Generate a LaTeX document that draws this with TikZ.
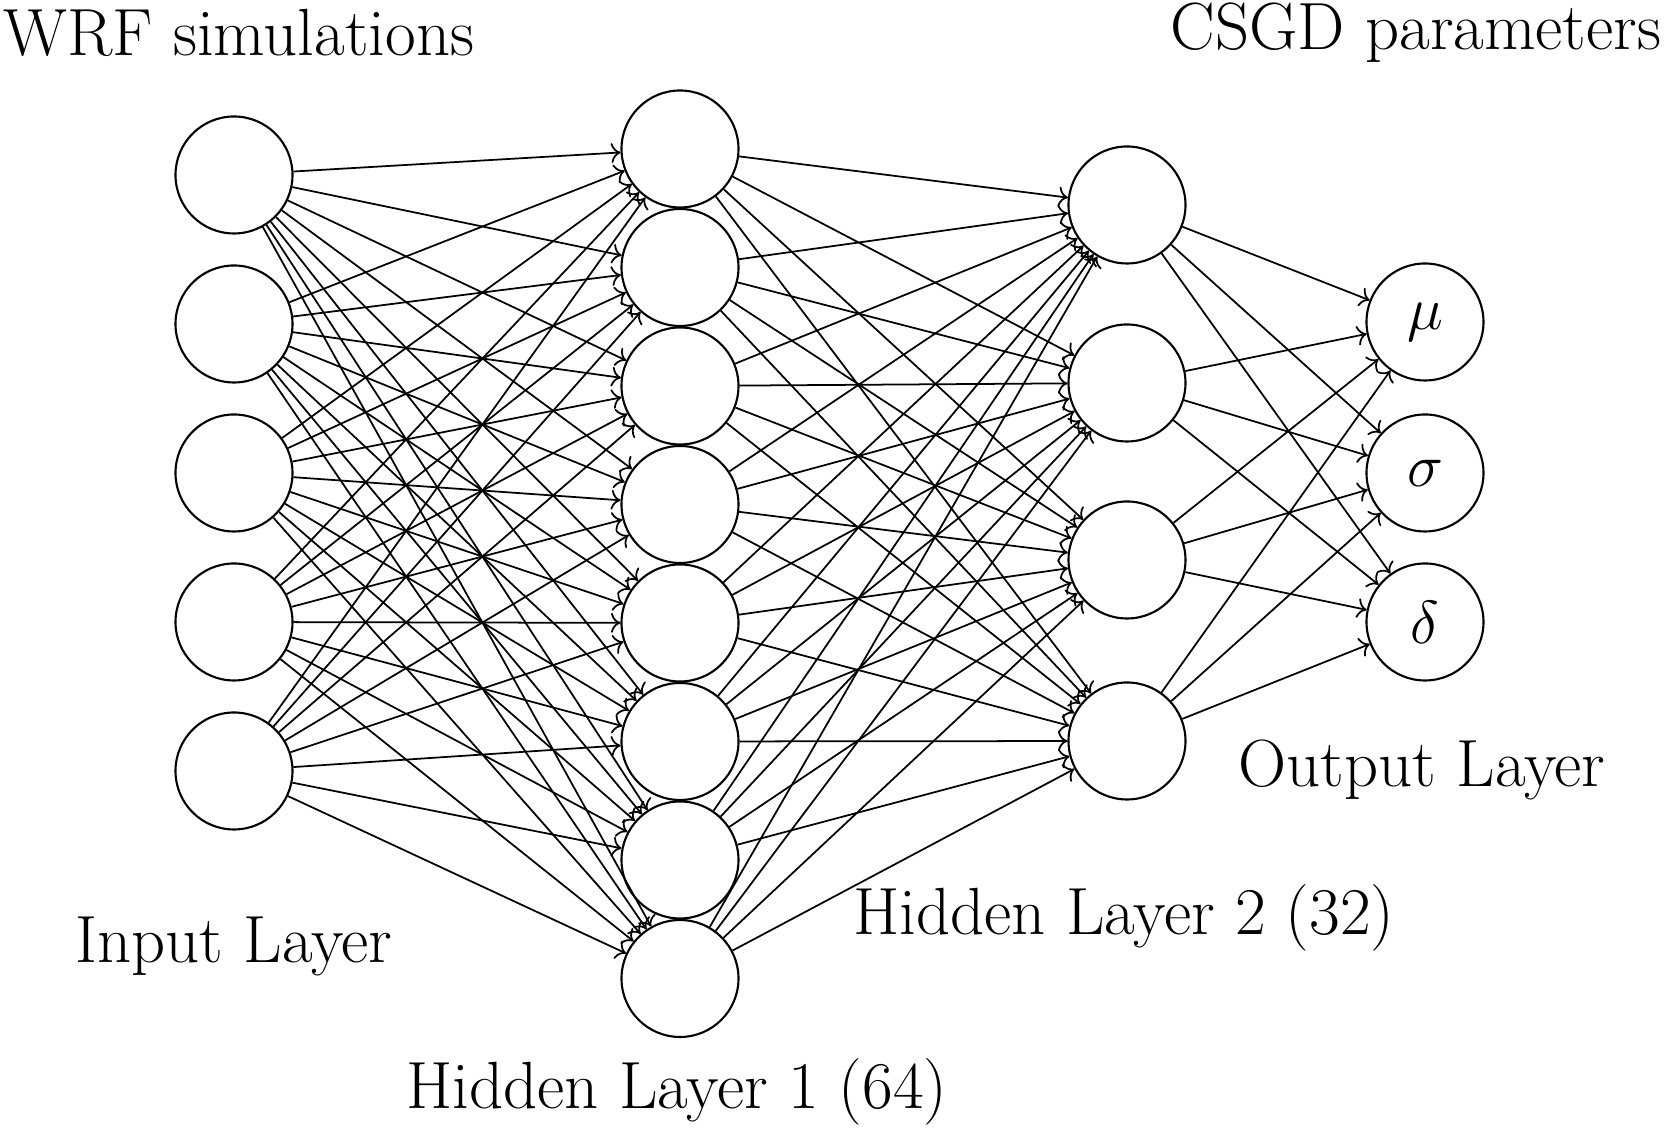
\documentclass[tikz,border=0pt]{standalone}
\usepackage{amsmath,amssymb}
\usepackage{tikz}
\usetikzlibrary{arrows.meta, positioning, calc}

\begin{document}
\begin{tikzpicture}[ neuron/.style={circle, draw=black, line width=0.6pt,
      minimum size=1.17cm, inner sep=0pt, font=\fontsize{19pt}{23pt}\selectfont},
      conn/.style={line width=0.5pt, ->},
      layerlabel/.style={font=\fontsize{19pt}{23pt}\selectfont, text=black,
      inner sep=0pt} ]
    \useasboundingbox (0,0) rectangle (16.67,-11.30);

    % Input layer
    \node[neuron] (i1) at (2.34,-1.75) {}; \node[neuron] (i2) at (2.34,-3.24)
    {}; \node[neuron] (i3) at (2.34,-4.73) {}; \node[neuron] (i4) at
    (2.34,-6.22) {}; \node[neuron] (i5) at (2.34,-7.71) {};

    % Hidden layer 1
    \node[neuron] (a1) at (6.80,-1.49) {}; \node[neuron] (a2) at (6.80,-2.675)
    {}; \node[neuron] (a3) at (6.80,-3.86) {}; \node[neuron] (a4) at
    (6.80,-5.045) {}; \node[neuron] (a5) at (6.80,-6.23) {}; \node[neuron]
    (a6) at (6.80,-7.415) {}; \node[neuron] (a7) at (6.80,-8.60) {};
    \node[neuron] (a8) at (6.80,-9.785) {};

    % Hidden layer 2
    \node[neuron] (b1) at (11.27,-2.05) {}; \node[neuron] (b2) at
    (11.27,-3.83) {}; \node[neuron] (b3) at (11.27,-5.60) {}; \node[neuron]
    (b4) at (11.27,-7.41) {};

    % Output layer
    \node[neuron] (o1) at (14.25,-3.22) {$\mu$}; \node[neuron] (o2) at
    (14.25,-4.73) {$\sigma$}; \node[neuron] (o3) at (14.25,-6.22)
    {$\delta$};

    % Connections
    \foreach \i in {1,...,5} \foreach \j in {1,...,8} \draw[conn] (i\i) --
    (a\j);
    \foreach \i in {1,...,8} \foreach \j in {1,...,4} \draw[conn] (a\i) --
    (b\j);
    \foreach \i in {1,...,4} \foreach \j in {1,...,3} \draw[conn] (b\i) --
    (o\j);

    % Labels
    \node[layerlabel] (wrf) at (2.39,-0.33) {WRF simulations};
    \node[layerlabel] (csgd) at (14.16,-0.33) {CSGD parameters};
    \node[layerlabel] (inlabel) at (2.34,-9.46) {Input Layer};
    \node[layerlabel] (h1label) at (6.77,-10.92) {Hidden Layer 1 (64)};
    \node[layerlabel] (h2label) at (11.24,-9.18) {Hidden Layer 2 (32)};
    \node[layerlabel] (outlabel) at (14.22,-7.70) {Output Layer};

    \end{tikzpicture}
\end{document}
